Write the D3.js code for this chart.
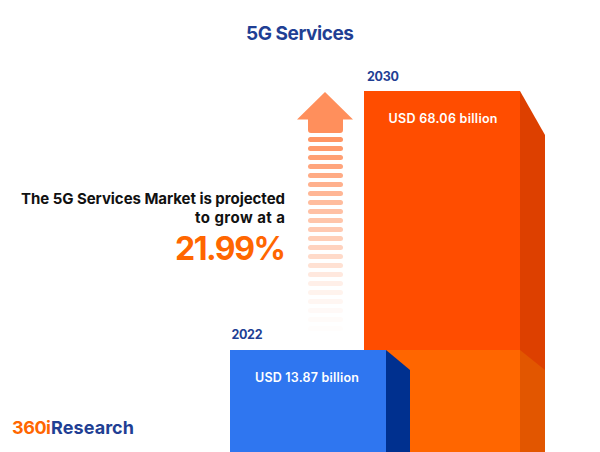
<!DOCTYPE html>
<html>
<head>
<meta charset="utf-8">
<script src="https://cdn.jsdelivr.net/npm/d3@7"></script>
<style>
body { margin: 0; background: #fff; }
text { font-family: Inter, "Noto Sans", sans-serif; }
</style>
</head>
<body>
<svg id="chart" width="600" height="452"></svg>
<script>
var years = ["2022", "2030"];
var values = [13.87, 68.06];
var valueLabels = ["USD 13.87 billion", "USD 68.06 billion"];
var cagr = "21.99%";

var svg = d3.select("#chart");

var base = 452, barWidth = 156, depth = [24, 25], slant = [20, 44];
var blue = "#1f3f94", orange = "#ff6600";

// bars are not drawn from zero in the original, so the scale is fitted to the two tops
var x = d3.scalePoint().domain(years).range([230, 364]);
var y = d3.scaleLinear().domain(values).range([350, 91]);

var front = ["#2f76f0", "#ff4d00"];
var side = ["#00308f", "#dd4000"];

function sidePath(i) {
    var x0 = x(years[i]) + barWidth, top = y(values[i]);
    return d3.line()([[x0, top], [x0 + depth[i], top + slant[i]], [x0 + depth[i], base], [x0, base]]) + "Z";
}

// 2030 first, the 2022 bar sits over it
svg.append("rect")
    .attr("x", x("2030")).attr("y", y(68.06))
    .attr("width", barWidth).attr("height", base - y(68.06))
    .attr("fill", front[1]);
svg.append("path").attr("d", sidePath(1)).attr("fill", side[1]);

// lighter band where the two bars overlap in height
svg.append("rect")
    .attr("x", x("2030")).attr("y", y(13.87))
    .attr("width", barWidth).attr("height", base - y(13.87))
    .attr("fill", orange);
var sx = x("2030") + barWidth;
svg.append("path")
    .attr("d", d3.line()([[sx, y(13.87)], [sx + depth[1], y(13.87) + slant[0]], [sx + depth[1], base], [sx, base]]) + "Z")
    .attr("fill", "#e25600");

svg.append("rect")
    .attr("x", x("2022")).attr("y", y(13.87))
    .attr("width", barWidth).attr("height", base - y(13.87))
    .attr("fill", front[0]);
svg.append("path").attr("d", sidePath(0)).attr("fill", side[0]);

// arrow
var arrowColor = "#ff8f5c";
var stripes = d3.range(22);
var stripeY = d3.scalePoint().domain(stripes).range([139.5, 328.5]);
var fade = d3.scaleLinear().domain([0, 7, 12, 16, 19, 21]).range([0.95, 0.6, 0.4, 0.14, 0.05, 0.02]);

svg.append("path")
    .attr("d", "M325,92L353,119.5H343V130Q343,133 340,133H311Q308,133 308,130V119.5H297Z")
    .attr("fill", arrowColor);

svg.selectAll(".stripe")
    .data(stripes)
    .enter().append("rect")
    .attr("class", "stripe")
    .attr("x", 308).attr("width", 35)
    .attr("y", function(d) { return stripeY(d) - 2.5; })
    .attr("height", 5).attr("rx", 2.5)
    .attr("fill", arrowColor)
    .attr("opacity", function(d) { return fade(d); });

function label(txt, px, py, size, weight, color, anchor, len) {
    return svg.append("text")
        .attr("x", px).attr("y", py)
        .attr("font-size", size).attr("font-weight", weight)
        .attr("fill", color).attr("text-anchor", anchor)
        .attr("textLength", len).attr("lengthAdjust", "spacing")
        .text(txt);
}

label("5G Services", 300, 39.5, 19, 700, blue, "middle", 108);
label(years[1], 367, 81, 12.5, 700, blue, "start", 32);
label(years[0], 231.5, 339, 12.5, 700, blue, "start", 31);
label(valueLabels[1], 443, 123, 12.5, 600, "#fff", "middle", 109);
label(valueLabels[0], 307, 382, 12.5, 600, "#fff", "middle", 104);

label("The 5G Services Market is projected", 285, 204, 15, 700, "#111", "end", 264);
label("to grow at a", 285, 223, 15, 700, "#111", "end", 90);
label(cagr, 286, 260, 32, 700, orange, "end", 111);

label("360i", 12, 434, 18, 700, orange, "start", 39);
label("Research", 51, 434, 18, 700, blue, "start", 83);
</script>
</body>
</html>
